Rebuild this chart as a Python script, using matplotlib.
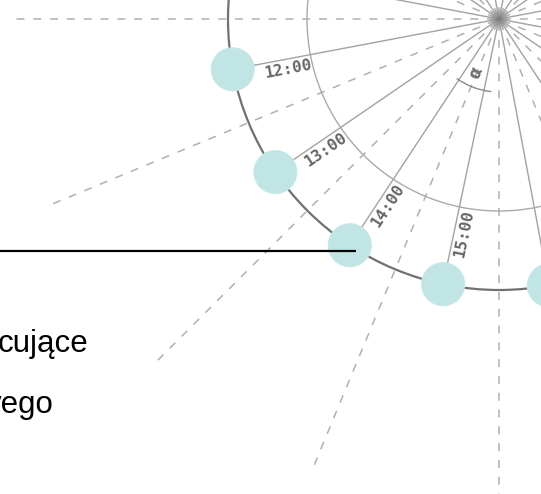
import numpy as np
import matplotlib
matplotlib.use("Agg")
import matplotlib.pyplot as plt
from matplotlib.patches import Circle, Arc

# ---- data ----
hour_labels = ["12:00", "13:00", "14:00", "15:00"]                   # labels visible in the crop
hour_angles = [10.7, 34.4, 56.6, 78.1, 100.6, 123.5, 145.6, 169.3]   # degrees below left horizontal
guide_angles = list(np.arange(0, 360, 22.5))                          # dashed guide rays
text_lines = ["cujące", "yego"]

# ---- geometry / style ----
W, H = 541, 494
cx, cy = 499, 19
r_outer, r_inner, r_dot, r_guide = 271, 192, 21.5, 485
r_label = 217

fig = plt.figure(figsize=(W / 100, H / 100), dpi=100)
ax = fig.add_axes([0, 0, 1, 1])
ax.set_xlim(0, W)
ax.set_ylim(H, 0)
ax.axis("off")

def pt(phi, r):
    a = np.deg2rad(phi)
    return cx + r * np.cos(a), cy - r * np.sin(a)

# dashed guide rays
for g in guide_angles:
    x0, y0 = pt(g, 4)
    x1, y1 = pt(g, r_guide)
    ax.plot([x0, x1], [y0, y1], color="#b0b0b0", lw=1.1,
            linestyle=(0, (5.2, 5.8)), zorder=1)

# solid hour lines through the centre
for th in hour_angles:
    phi = 180 + th
    x0, y0 = pt(phi + 180, 130)
    x1, y1 = pt(phi, r_outer - r_dot)
    ax.plot([x0, x1], [y0, y1], color="#a2a2a2", lw=1.0, zorder=2)

# circles
ax.add_patch(Circle((cx, cy), r_inner, fill=False, ec="#aaaaaa", lw=1.0, zorder=2))
ax.add_patch(Circle((cx, cy), r_outer, fill=False, ec="#707070", lw=1.6, zorder=3))

# alpha arc
ax.add_patch(Arc((cx, cy), 2 * 73, 2 * 73, theta1=96, theta2=125.5,
                 ec="#8a8a8a", lw=1.0, zorder=3))
ax.text(*pt(180 + 67, 59), "α", rotation=67, color="#707070", fontsize=12,
        fontweight="bold", ha="center", va="center", zorder=4)

# centre blur
for rr, al in [(10, 0.08), (8, 0.12), (6, 0.18), (4, 0.28), (2.2, 0.5)]:
    ax.add_patch(Circle((cx, cy), rr, fc="#777777", ec="none", alpha=al, zorder=4))

# dots
for th in hour_angles:
    ax.add_patch(Circle(pt(180 + th, r_outer), r_dot, fc="#c1e4e5", ec="#c8e8e8",
                        lw=0.8, zorder=5))

# hour labels
for lab, th in zip(hour_labels, hour_angles):
    ax.text(*pt(180 + th + 2.6, r_label), lab, rotation=th, rotation_mode="anchor",
            ha="center", va="center", fontsize=11.5, fontweight="bold",
            family="DejaVu Sans Mono", color="#666666", zorder=6)

# leader line and text
ax.plot([0, 356], [251, 251], color="black", lw=1.6, zorder=7, solid_capstyle="butt")
ax.text(88, 352, text_lines[0], ha="right", va="baseline", fontsize=22.5,
        family="Liberation Sans", color="black", zorder=7)
ax.text(54, 413, text_lines[1], ha="right", va="baseline", fontsize=22.5,
        family="Liberation Sans", color="black", zorder=7)

fig.savefig("out.png", dpi=100)
